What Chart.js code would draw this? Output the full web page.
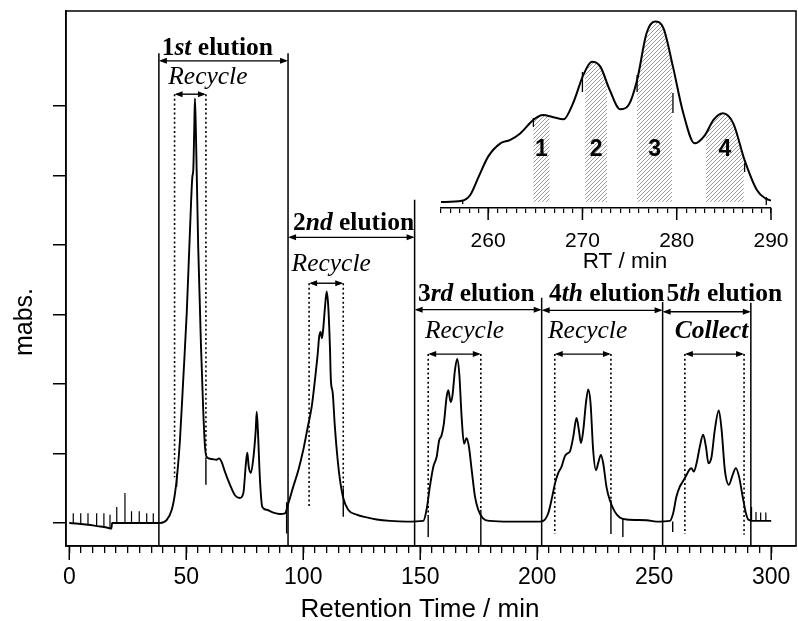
<!DOCTYPE html>
<html>
<head>
<meta charset="utf-8">
<script src="https://cdn.jsdelivr.net/npm/chart.js@4.4.0/dist/chart.umd.min.js"></script>
<style>
  html, body { margin: 0; padding: 0; background: #fff; }
  #wrap { position: relative; width: 798px; height: 621px; }
  #main { position: absolute; left: 0; top: 0; }
  #inset { position: absolute; left: 400px; top: 0; }
</style>
</head>
<body>
<div id="wrap">
  <canvas id="main" width="798" height="621"></canvas>
  <canvas id="inset" width="398" height="290"></canvas>
</div>
<script>
// ---- recycling chromatogram (retention time in min, absorbance in mAbs) ----
const rtMin = [0, 4, 8, 12, 16, 18.0, 18.3, 25, 32, 38.8, 41.6, 43.8, 45.2, 46.2, 47.3, 48.7, 50.2, 51.6, 52.6, 53.0,
  53.4, 53.7, 54.1, 55.1, 56.3, 57.3, 58.0, 58.7, 60.9, 63.0, 64.0, 65.1, 66.5, 68.7, 70.8, 72.9, 74.4, 75.5, 76.1, 76.7,
  77.6, 78.6, 79.7, 80.1, 80.6, 81.5, 82.5, 84.4, 87.2, 90.0, 92.2, 93.6, 95.7, 97.9, 100.0, 102.1, 103.6, 105.0, 106.2, 106.8,
  107.4, 108.0, 108.5, 109.3, 110.0, 110.7, 111.4, 111.8, 112.6, 113.5, 114.7, 115.7, 117.1, 119.2, 122.8, 127.1, 131.4, 137.1, 144.2, 151.3,
  152.7, 154.1, 155.6, 157.0, 158.1, 159.1, 160.1, 161.3, 162.0, 163.0, 163.8, 164.8, 165.8, 166.7, 167.7, 168.7, 169.8, 170.8, 172.0, 173.4,
  174.8, 176.7, 179.8, 188.3, 201.1, 202.6, 204.7, 206.1, 207.6, 209.0, 210.4, 211.8, 212.8, 214.0, 215.4, 216.8, 217.8, 218.7, 219.7, 220.8,
  221.8, 222.8, 223.9, 225.1, 226.2, 227.2, 228.2, 229.6, 231.0, 233.2, 235.3, 238.2, 246.8, 250.9, 256.7, 258.1, 259.5, 260.9, 262.3, 263.8,
  264.9, 265.9, 266.9, 268.1, 269.5, 270.9, 272.1, 273.2, 274.5, 275.9, 277.6, 278.8, 280.2, 281.9, 283.5, 284.9, 286.3, 287.8, 289.2, 290.2,
  292.3, 300.0];
const absorb = [0, -0.01, -0.025, -0.045, -0.065, -0.08, 0.0, 0.0, 0.0, 0.0, 0.04, 0.19, 0.43, 0.72, 1.19, 2.06, 3.02, 4.22, 4.98, 5.08,
  5.65, 6.11, 5.65, 3.98, 2.54, 1.58, 1.10, 0.95, 0.92, 0.91, 0.93, 0.88, 0.74, 0.55, 0.40, 0.36, 0.43, 0.86, 1.01, 0.81,
  0.72, 0.91, 1.34, 1.60, 1.34, 0.62, 0.23, 0.19, 0.15, 0.13, 0.14, 0.28, 0.52, 0.76, 1.05, 1.41, 1.67, 2.06, 2.44, 2.68,
  2.75, 2.66, 2.78, 3.11, 3.33, 3.11, 2.54, 2.06, 1.87, 1.39, 0.91, 0.62, 0.36, 0.19, 0.12, 0.08, 0.05, 0.03, 0.02, 0.03,
  0.19, 0.52, 0.81, 0.95, 1.19, 1.26, 1.43, 1.82, 1.91, 1.74, 1.84, 2.19, 2.36, 2.14, 1.52, 1.14, 1.22, 1.10, 0.76, 0.38,
  0.19, 0.07, 0.03, 0.02, 0.02, 0.03, 0.14, 0.33, 0.57, 0.72, 0.81, 0.96, 1.00, 1.03, 1.24, 1.51, 1.34, 1.15, 1.34, 1.72,
  1.92, 1.72, 1.05, 0.76, 0.88, 0.98, 0.86, 0.52, 0.33, 0.16, 0.08, 0.05, 0.04, 0.02, 0.03, 0.14, 0.38, 0.52, 0.60, 0.69,
  0.76, 0.79, 0.74, 0.86, 1.10, 1.27, 1.10, 0.86, 0.95, 1.34, 1.62, 1.34, 0.76, 0.55, 0.69, 0.79, 0.66, 0.38, 0.14, 0.05,
  0.03, 0.03];

// detector noise spikes on the baseline
const noiseRt   = [1.7, 4.9, 8.0, 11.7, 14.8, 17.4, 20.3, 23.8, 26.6, 29.9, 33.1, 35.9, 291.6, 293.5, 295.5, 297.7];
const noiseBase = [0, -0.01, -0.02, -0.04, -0.06, -0.075, 0, 0, 0, 0, 0, 0, 0.03, 0.03, 0.03, 0.03];
const noiseTop  = [0.14, 0.14, 0.14, 0.14, 0.14, 0.12, 0.23, 0.43, 0.17, 0.17, 0.14, 0.14, 0.23, 0.16, 0.15, 0.15];

// elution windows
const elutionEdges = [38.3, 93.5, 147.6, 201.9, 253.6, 291.3];
const elutionNum = ['1', '2', '3', '4', '5'];
const elutionSuffix = ['st', 'nd', 'rd', 'th', 'th'];

// recycle / collect cuts inside each window
const cutLabels = ['Recycle', 'Recycle', 'Recycle', 'Recycle', 'Collect'];
const cutStart = [45.0, 102.5, 153.4, 207.5, 263.1];
const cutEnd   = [58.4, 117.1, 175.9, 231.5, 288.4];

// valve event marks on the trace: [rt, from, to]
const eventMarks = [[45.9, 0.71, 0.52], [58.4, 0.91, 0.55], [92.9, 0.30, -0.15], [117.1, 0.50, 0.09],
  [153.4, 0.09, -0.20], [175.9, 0.19, -0.32], [231.5, 0.33, -0.16], [236.6, 0.07, -0.20], [257.9, 0.02, -0.13]];

// ---- inset: collected window, 255-290 min ----
const insetRt = [255, 257.2, 258.1, 259.0, 260.0, 261.3, 262.3, 263.4, 264.8, 265.8, 266.9, 268.0, 269.0, 270.1, 271.0, 271.9,
  272.9, 274.0, 274.9, 275.8, 276.8, 277.7, 278.6, 279.6, 280.7, 281.9, 283.0, 283.9, 284.9, 286.0, 287.2, 288.5, 289.4, 290.1];
const insetAbs = [0, 0.7, 3.9, 14.1, 25.2, 32.6, 34.4, 38.1, 45.6, 48.3, 47.1, 45.9, 54.8, 70.6, 77.9, 75.2,
  62.2, 51.5, 53.9, 67.8, 93.7, 100.2, 96.5, 75.2, 49.3, 32.6, 37.2, 45.6, 49.3, 43.7, 23.3, 6.7, 2.0, 0.7];
const fractionNo   = ['1', '2', '3', '4'];
const fractionFrom = [264.8, 270.3, 275.8, 283.1];
const fractionTo   = [266.5, 272.6, 279.5, 287.1];
const insetMarkRt   = [257.3, 264.8, 270.0, 275.8, 279.6, 287.2, 289.5];
const insetMarkFrom = [1.1, 46.7, 72.2, 70.6, 60.6, 21.7, 2.8];
const insetMarkTo   = [-1.1, 41.7, 61.1, 61.1, 49.4, 16.7, -1.7];

// ---- placement of the annotations (data units) ----
const place = {
  edgeTop: [6.76, 6.76, 4.65, 3.24, 3.18, 3.17],
  elutionArrowY: [6.65, 4.11, 3.07, 3.06, 3.04],
  elutionText: [[39.5, 6.73], [95.6, 4.22], [149.0, 3.20], [205.0, 3.20], [255.3, 3.20]],
  cutArrowY: [6.17, 3.45, 2.43, 2.43, 2.43],
  cutText: [[42.3, 6.32], [95.0, 3.63], [152.0, 2.66], [204.6, 2.66], [258.8, 2.66]],
  dropEndL: [0.66, 0.23, 0.09, -0.16, -0.16],
  dropEndR: [0.91, 0.50, 0.19, 0.33, -0.17],
  fractionTextY: 28.9
};

const SANS = '"Liberation Sans", Arial, sans-serif';
const SERIF = '"Liberation Serif", "Times New Roman", serif';

function segs(list) {
  const out = [];
  list.forEach(([t, a, b]) => out.push({x: t, y: a}, {x: t, y: b}, {x: t, y: null}));
  return out;
}
function stepTicks(from, to, step) {
  const t = [];
  for (let v = from; v <= to + 1e-9; v += step) t.push({value: Math.round(v * 10) / 10});
  return t;
}
function arrow(ctx, x1, x2, y) {
  ctx.beginPath(); ctx.moveTo(x1 + 2, y); ctx.lineTo(x2 - 2, y); ctx.stroke();
  [[x1, 1], [x2, -1]].forEach(([x, d]) => {
    ctx.beginPath(); ctx.moveTo(x, y); ctx.lineTo(x + d * 8, y - 3); ctx.lineTo(x + d * 8, y + 3); ctx.closePath(); ctx.fill();
  });
}
function runs(ctx, parts, x, y) {
  ctx.textAlign = 'left'; ctx.textBaseline = 'alphabetic';
  parts.forEach(([txt, font]) => { ctx.font = font; ctx.fillText(txt, x, y); x += ctx.measureText(txt).width; });
}

const mainDecor = {
  id: 'mainDecor',
  afterDraw(chart) {
    const {ctx, chartArea: a, scales: {x, y}} = chart;
    ctx.save();
    ctx.strokeStyle = '#000'; ctx.fillStyle = '#000';
    ctx.lineWidth = 1.5;
    ctx.strokeRect(a.left, a.top, a.right - a.left, a.bottom - a.top);
    // long ticks every 50 min
    for (let v = 0; v <= 300; v += 50) {
      const px = x.getPixelForValue(v);
      ctx.beginPath(); ctx.moveTo(px, a.bottom); ctx.lineTo(px, a.bottom + 14); ctx.stroke();
    }
    ctx.lineWidth = 1.4;
    elutionNum.forEach((n, i) => {
      arrow(ctx, x.getPixelForValue(elutionEdges[i]), x.getPixelForValue(elutionEdges[i + 1]),
        y.getPixelForValue(place.elutionArrowY[i]));
      const [tt, tv] = place.elutionText[i];
      runs(ctx, [[n, 'bold 25.5px ' + SERIF], [elutionSuffix[i], 'italic bold 25.5px ' + SERIF], [' elution', 'bold 25.5px ' + SERIF]],
        x.getPixelForValue(tt), y.getPixelForValue(tv));
    });
    cutLabels.forEach((lab, i) => {
      arrow(ctx, x.getPixelForValue(cutStart[i]), x.getPixelForValue(cutEnd[i]), y.getPixelForValue(place.cutArrowY[i]));
      const [tt, tv] = place.cutText[i];
      const font = (lab === 'Collect' ? 'italic bold ' : 'italic ') + '25.5px ' + SERIF;
      runs(ctx, [[lab, font]], x.getPixelForValue(tt), y.getPixelForValue(tv));
    });
    // axis titles
    ctx.font = '26px ' + SANS;
    ctx.textAlign = 'center'; ctx.textBaseline = 'alphabetic';
    ctx.fillText('Retention Time / min', 420, 617);
    ctx.translate(32, 322); ctx.rotate(-Math.PI / 2);
    ctx.font = '25px ' + SANS;
    ctx.fillText('mabs.', 0, 0);
    ctx.restore();
  }
};

const yBottom = -0.331;
const mainChart = new Chart(document.getElementById('main'), {
  type: 'line',
  data: {
    datasets: [
      { data: rtMin.map((t, i) => ({x: t, y: absorb[i]})), borderColor: '#000', borderWidth: 1.9,
        pointRadius: 0, cubicInterpolationMode: 'monotone', fill: false },
      { data: segs(noiseRt.map((t, i) => [t, noiseBase[i], noiseTop[i]])), borderColor: '#000', borderWidth: 1.2, pointRadius: 0 },
      { data: segs(elutionEdges.map((t, i) => [t, place.edgeTop[i], yBottom])), borderColor: '#000', borderWidth: 1.5, pointRadius: 0 },
      { data: segs(eventMarks), borderColor: '#000', borderWidth: 1.4, pointRadius: 0 },
      { data: segs(cutStart.map((t, i) => [t, place.cutArrowY[i], place.dropEndL[i]])
          .concat(cutEnd.map((t, i) => [t, place.cutArrowY[i], place.dropEndR[i]]))),
        borderColor: '#000', borderWidth: 1.6, borderDash: [2, 2.6], pointRadius: 0 }
    ]
  },
  options: {
    responsive: false, animation: false, events: [],
    layout: { padding: { left: 0, right: 2, top: 11, bottom: 0 } },
    plugins: { legend: { display: false }, tooltip: { enabled: false } },
    scales: {
      x: {
        type: 'linear', min: -1.4, max: 310.6,
        afterBuildTicks: s => { s.ticks = stepTicks(0, 300, 5); },
        afterFit: s => { s.height = 75; s.paddingLeft = 0; s.paddingRight = 0; },
        grid: { drawOnChartArea: false, tickLength: 7, color: '#000', lineWidth: 1.3 },
        border: { color: '#000', width: 1.5 },
        ticks: { autoSkip: false, maxRotation: 0, padding: 11, color: '#000',
          font: { family: SANS, size: 23 }, callback: v => (v % 50 === 0 ? v : '') }
      },
      y: {
        min: yBottom, max: 7.367,
        afterBuildTicks: s => { s.ticks = stepTicks(0, 6, 1); },
        afterFit: s => { s.width = 66; },
        grid: { drawOnChartArea: false, tickLength: 13, color: '#000', lineWidth: 1.5 },
        border: { color: '#000', width: 1.5 },
        ticks: { display: false }
      }
    }
  },
  plugins: [mainDecor]
});

// hatch used for the collected fractions
const hatchTile = document.createElement('canvas');
hatchTile.width = 4; hatchTile.height = 4;
(function () {
  const p = hatchTile.getContext('2d');
  p.strokeStyle = '#9a9a9a'; p.lineWidth = 1;
  p.beginPath();
  p.moveTo(0, 4); p.lineTo(4, 0);
  p.moveTo(-1, 1); p.lineTo(1, -1);
  p.moveTo(3, 5); p.lineTo(5, 3);
  p.stroke();
})();

const insetDecor = {
  id: 'insetDecor',
  beforeDatasetsDraw(chart) {
    const {ctx, chartArea: a, scales: {x, y}} = chart;
    const meta = chart.getDatasetMeta(0);
    const pts = meta.data;
    const y0 = y.getPixelForValue(0);
    const hatch = ctx.createPattern(hatchTile, 'repeat');
    fractionFrom.forEach((f, i) => {
      const x1 = x.getPixelForValue(f), x2 = x.getPixelForValue(fractionTo[i]);
      ctx.save();
      ctx.beginPath(); ctx.rect(x1, a.top, x2 - x1, y0 - a.top); ctx.clip();
      ctx.beginPath();
      meta.dataset.path(ctx);
      ctx.lineTo(pts[pts.length - 1].x, y0); ctx.lineTo(pts[0].x, y0); ctx.closePath();
      ctx.fillStyle = hatch; ctx.fill();
      ctx.restore();
    });
  },
  afterDraw(chart) {
    const {ctx, chartArea: a, scales: {x, y}} = chart;
    ctx.save();
    ctx.strokeStyle = '#000'; ctx.fillStyle = '#000'; ctx.lineWidth = 1.5;
    for (let v = 260; v <= 290; v += 10) {
      const px = x.getPixelForValue(v);
      ctx.beginPath(); ctx.moveTo(px, a.bottom); ctx.lineTo(px, a.bottom + 12); ctx.stroke();
    }
    ctx.font = 'bold 23px ' + SANS;
    ctx.textAlign = 'center'; ctx.textBaseline = 'middle';
    fractionNo.forEach((n, i) => {
      ctx.fillText(n, x.getPixelForValue((fractionFrom[i] + fractionTo[i]) / 2), y.getPixelForValue(place.fractionTextY));
    });
    ctx.font = '22.5px ' + SANS; ctx.textBaseline = 'alphabetic';
    ctx.fillText('RT / min', 225, 268);
    ctx.restore();
  }
};

const insetChart = new Chart(document.getElementById('inset'), {
  type: 'line',
  data: {
    datasets: [
      { data: insetRt.map((t, i) => ({x: t, y: insetAbs[i]})), borderColor: '#000', borderWidth: 2,
        pointRadius: 0, cubicInterpolationMode: 'monotone', fill: false },
      { data: segs(insetMarkRt.map((t, i) => [t, insetMarkFrom[i], insetMarkTo[i]])), borderColor: '#000', borderWidth: 1.3, pointRadius: 0 }
    ]
  },
  options: {
    responsive: false, animation: false, events: [],
    layout: { padding: { left: 41, right: 27, top: 0, bottom: 0 } },
    plugins: { legend: { display: false }, tooltip: { enabled: false } },
    scales: {
      x: {
        type: 'linear', min: 255, max: 290,
        afterBuildTicks: s => { s.ticks = stepTicks(255, 290, 1); },
        afterFit: s => { s.height = 82; s.paddingLeft = 0; s.paddingRight = 0; },
        grid: { drawOnChartArea: false, tickLength: 5, color: '#000', lineWidth: 1.2 },
        border: { color: '#000', width: 1.5 },
        ticks: { autoSkip: false, maxRotation: 0, padding: 16, color: '#000',
          font: { family: SANS, size: 21 }, callback: v => (v % 10 === 0 ? v : '') }
      },
      y: { display: false, min: -3.33, max: 112.2 }
    }
  },
  plugins: [insetDecor]
});
</script>
</body>
</html>
